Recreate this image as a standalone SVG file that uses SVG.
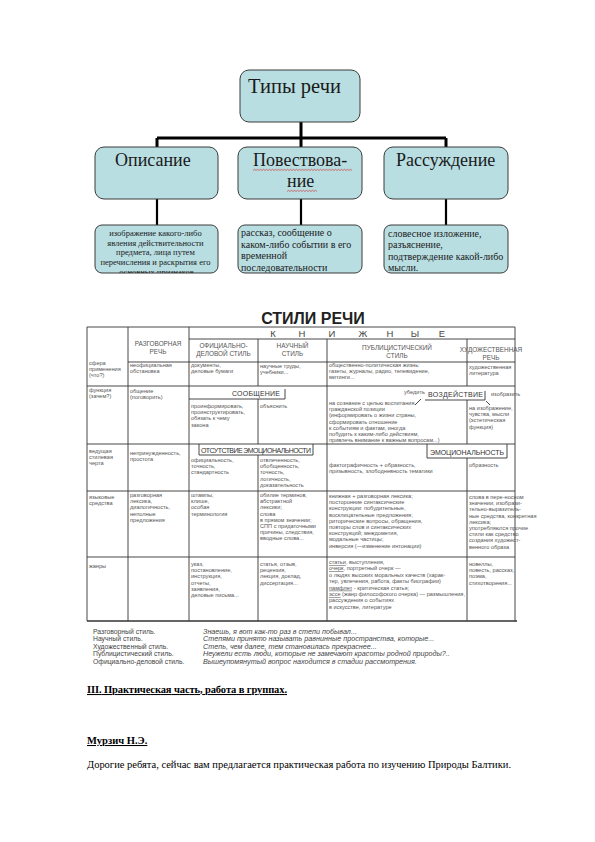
<svg xmlns="http://www.w3.org/2000/svg" width="595" height="842" viewBox="0 0 595 842">
<style>
.box{fill:#b9dee2;stroke:#3a3a3a;stroke-width:1}
.ttl{font-family:"Liberation Serif","Times New Roman",serif;fill:#1a1a1a}
.conn{stroke:#000;stroke-width:3;fill:none}
.conn2{stroke:#000;stroke-width:2.2;fill:none}
.sq{stroke:#d02020;stroke-width:0.6;fill:none}
.gl{stroke:#333;stroke-width:0.9;fill:none}
.t{font-family:"Liberation Sans",Arial,sans-serif;font-size:5.6px;fill:#555}
.h{font-family:"Liberation Sans",Arial,sans-serif;font-size:6.4px;fill:#555;text-anchor:middle}
.lb{font-family:"Liberation Sans",Arial,sans-serif;font-size:7px;fill:#333}
.kn{font-family:"Liberation Sans",Arial,sans-serif;font-size:9.5px;fill:#444;text-anchor:middle}
.lg{font-family:"Liberation Sans",Arial,sans-serif;font-size:6.8px;fill:#444}
.lgi{font-style:italic;font-size:7.2px}
.doc{font-family:"Liberation Serif","Times New Roman",serif;font-size:10.5px;fill:#000}
.u{text-decoration:underline}
</style>
<defs>
<clipPath id="clipL"><rect x="95" y="225" width="123" height="48" rx="7"/></clipPath>
</defs>
<rect x="0" y="0" width="595" height="842" fill="#fff"/>

<g id="connectors">
<path class="conn" d="M301 122 V138 M157 138 H446 M157 138 V147 M301 138 V147 M446 138 V147"/>
<path class="conn2" d="M157 199 V225 M301 199 V225 M446 199 V225"/>
</g>

<g id="n-tipy">
<rect class="box" x="240" y="70" width="120" height="52" rx="9"/>
<text class="ttl" x="248" y="93" font-size="20.5">Типы речи</text>
</g>
<g id="n-opisanie">
<rect class="box" x="95" y="147" width="123" height="52" rx="9"/>
<text class="ttl" x="115" y="166" font-size="18">Описание</text>
</g>
<g id="n-povestvovanie">
<rect class="box" x="238" y="147" width="124" height="52" rx="9"/>
<text class="ttl" x="253" y="166" font-size="18">Повествова-</text>
<text class="ttl" x="287" y="187" font-size="18">ние</text>
<path class="sq" d="M253 170.5 l1.5 -1.2 l1.5 1.2 l1.5 -1.2 l1.5 1.2 l1.5 -1.2 l1.5 1.2 l1.5 -1.2 l1.5 1.2 l1.5 -1.2 l1.5 1.2 l1.5 -1.2 l1.5 1.2 l1.5 -1.2 l1.5 1.2 l1.5 -1.2 l1.5 1.2 l1.5 -1.2 l1.5 1.2 l1.5 -1.2 l1.5 1.2 l1.5 -1.2 l1.5 1.2 l1.5 -1.2 l1.5 1.2 l1.5 -1.2 l1.5 1.2 l1.5 -1.2 l1.5 1.2 l1.5 -1.2 l1.5 1.2 l1.5 -1.2 l1.5 1.2 l1.5 -1.2 l1.5 1.2 l1.5 -1.2 l1.5 1.2 l1.5 -1.2 l1.5 1.2 l1.5 -1.2 l1.5 1.2 l1.5 -1.2 l1.5 1.2 l1.5 -1.2 l1.5 1.2 l1.5 -1.2 l1.5 1.2 l1.5 -1.2 l1.5 1.2 l1.5 -1.2 l1.5 1.2 l1.5 -1.2 l1.5 1.2 l1.5 -1.2 l1.5 1.2 l1.5 -1.2 l1.5 1.2 l1.5 -1.2 l1.5 1.2 l1.5 -1.2 l1.5 1.2 l1.5 -1.2 l1.5 1.2 l1.5 -1.2 l1.5 1.2 l1.5 -1.2 l1.5 1.2"/>
<path class="sq" d="M287 191.5 l1.5 -1.2 l1.5 1.2 l1.5 -1.2 l1.5 1.2 l1.5 -1.2 l1.5 1.2 l1.5 -1.2 l1.5 1.2 l1.5 -1.2 l1.5 1.2 l1.5 -1.2 l1.5 1.2 l1.5 -1.2 l1.5 1.2 l1.5 -1.2 l1.5 1.2 l1.5 -1.2 l1.5 1.2 l1.5 -1.2 l1.5 1.2"/>
</g>
<g id="n-rassuzhdenie">
<rect class="box" x="384" y="147" width="124" height="52" rx="9"/>
<text class="ttl" x="396" y="166" font-size="18">Рассуждение</text>
</g>

<g id="d-opisanie">
<rect class="box" x="95" y="225" width="123" height="48" rx="7"/>
<text class="ttl" font-size="8.5" text-anchor="middle" clip-path="url(#clipL)">
<tspan x="156.5" y="236">изображение какого-либо</tspan>
<tspan x="156.5" y="245.5">явления действительности</tspan>
<tspan x="156.5" y="255">предмета, лица путем</tspan>
<tspan x="156.5" y="264.5">перечисления и раскрытия его</tspan>
<tspan x="156.5" y="274.5">основных признаков</tspan>
</text>
</g>
<g id="d-povestvovanie">
<rect class="box" x="238" y="225" width="124" height="48" rx="7"/>
<text class="ttl" font-size="10">
<tspan x="241" y="236">рассказ, сообщение о</tspan>
<tspan x="241" y="247.5">каком-либо событии в его</tspan>
<tspan x="241" y="259">временной</tspan>
<tspan x="241" y="270.5">последовательности</tspan>
</text>
</g>
<g id="d-rassuzhdenie">
<rect class="box" x="384" y="225" width="124" height="48" rx="7"/>
<text class="ttl" font-size="10">
<tspan x="388" y="236.5">словесное изложение,</tspan>
<tspan x="388" y="248">разъяснение,</tspan>
<tspan x="388" y="259.5">подтверждение какой-либо</tspan>
<tspan x="388" y="271">мысли.</tspan>
</text>
</g>

<g id="styles-table">
<text x="313" y="324" text-anchor="middle" font-family="Liberation Sans, Arial, sans-serif" font-weight="bold" font-size="16" fill="#222">СТИЛИ РЕЧИ</text>
<path class="gl" d="M87 327 H515 M189 339 H515 M128 362 H515 M87 386 H515 M87 444 H515 M87 491 H515 M87 557 H515"/>
<path class="gl" d="M87 327 V621 M128 327 V621 M189 327 V621 M258 339 V386 M258 399 V444 M258 455 V621 M327 339 V621 M467 339 V386 M467 400 V444 M467 458 V621 M515 327 V621"/>
<path d="M87 621 H517" stroke="#333" stroke-width="1.5"/>

<text class="kn" y="337"><tspan x="273">К</tspan><tspan x="302">Н</tspan><tspan x="332">И</tspan><tspan x="363">Ж</tspan><tspan x="390">Н</tspan><tspan x="415">Ы</tspan><tspan x="442">Е</tspan></text>

<text class="h"><tspan x="158" y="346">РАЗГОВОРНАЯ</tspan><tspan x="158" y="353.5">РЕЧЬ</tspan></text>
<text class="h"><tspan x="223.5" y="348">ОФИЦИАЛЬНО-</tspan><tspan x="223.5" y="355.5">ДЕЛОВОЙ СТИЛЬ</tspan></text>
<text class="h"><tspan x="292.5" y="348">НАУЧНЫЙ</tspan><tspan x="292.5" y="355.5">СТИЛЬ</tspan></text>
<text class="h"><tspan x="397" y="350">ПУБЛИЦИСТИЧЕСКИЙ</tspan><tspan x="397" y="357.5">СТИЛЬ</tspan></text>
<text class="h"><tspan x="491" y="352">ХУДОЖЕСТВЕННАЯ</tspan><tspan x="491" y="359.5">РЕЧЬ</tspan></text>

<text class="t"><tspan x="89" y="365">сфера</tspan><tspan x="89" y="371.2">применения</tspan><tspan x="89" y="377.4">(что?)</tspan></text>
<text class="t"><tspan x="89" y="392">функция</tspan><tspan x="89" y="398.2">(зачем?)</tspan></text>
<text class="t"><tspan x="89" y="453">ведущая</tspan><tspan x="89" y="459.2">стилевая</tspan><tspan x="89" y="465.4">черта</tspan></text>
<text class="t"><tspan x="89" y="499">языковые</tspan><tspan x="89" y="505.2">средства</tspan></text>
<text class="t"><tspan x="89" y="568">жанры</tspan></text>

<text class="t"><tspan x="130" y="367">неофициальная</tspan><tspan x="130" y="373.2">обстановка</tspan></text>
<text class="t"><tspan x="130" y="393">общение</tspan><tspan x="130" y="399.2">(поговорить)</tspan></text>
<text class="t"><tspan x="130" y="455">непринужденность,</tspan><tspan x="130" y="461.2">простота</tspan></text>
<text class="t"><tspan x="130" y="497">разговорная</tspan><tspan x="130" y="503.2">лексика,</tspan><tspan x="130" y="509.4">диалогичность,</tspan><tspan x="130" y="515.6">неполные</tspan><tspan x="130" y="521.8">предложения</tspan></text>

<text class="t"><tspan x="191" y="367">документы,</tspan><tspan x="191" y="373.2">деловые бумаги</tspan></text>
<text class="lb" x="232" y="396" textLength="48">СООБЩЕНИЕ</text>
<path class="gl" d="M189 399 H285 V389"/>
<text class="t"><tspan x="191" y="408">проинформировать,</tspan><tspan x="191" y="414.2">проинструктировать,</tspan><tspan x="191" y="420.4">обязать к чему</tspan><tspan x="191" y="426.6">закона</tspan></text>
<path class="gl" d="M199 444 V455 H313 V444"/>
<text class="lb" x="201" y="452.5" font-size="6.6" textLength="110">ОТСУТСТВИЕ ЭМОЦИОНАЛЬНОСТИ</text>
<text class="t"><tspan x="191" y="462">официальность,</tspan><tspan x="191" y="468.2">точность,</tspan><tspan x="191" y="474.4">стандартность</tspan></text>
<text class="t"><tspan x="191" y="497">штампы,</tspan><tspan x="191" y="503.2">клише,</tspan><tspan x="191" y="509.4">особая</tspan><tspan x="191" y="515.6">терминология</tspan></text>
<text class="t"><tspan x="191" y="566">указ,</tspan><tspan x="191" y="572.2">постановление,</tspan><tspan x="191" y="578.4">инструкция,</tspan><tspan x="191" y="584.6">отчеты,</tspan><tspan x="191" y="590.8">заявления,</tspan><tspan x="191" y="597">деловые письма...</tspan></text>

<text class="t"><tspan x="260" y="368">научные труды,</tspan><tspan x="260" y="374.2">учебники...</tspan></text>
<text class="t"><tspan x="260" y="408">объяснить</tspan></text>
<text class="t"><tspan x="260" y="462">отвлеченность,</tspan><tspan x="260" y="468.2">обобщенность,</tspan><tspan x="260" y="474.4">точность,</tspan><tspan x="260" y="480.6">логичность,</tspan><tspan x="260" y="486.8">доказательность</tspan></text>
<text class="t"><tspan x="260" y="497">обилие терминов,</tspan><tspan x="260" y="503.2">абстрактной</tspan><tspan x="260" y="509.4">лексики;</tspan><tspan x="260" y="515.6">слова</tspan><tspan x="260" y="521.8">в прямом значении;</tspan><tspan x="260" y="528">СПП с придаточными</tspan><tspan x="260" y="534.2">причины, следствия,</tspan><tspan x="260" y="540.4">вводные слова...</tspan></text>
<text class="t"><tspan x="260" y="566">статья, отзыв,</tspan><tspan x="260" y="572.2">рецензия,</tspan><tspan x="260" y="578.4">лекция, доклад,</tspan><tspan x="260" y="584.6">диссертация...</tspan></text>

<text class="t"><tspan x="329" y="367">общественно-политическая жизнь:</tspan><tspan x="329" y="373.2">газеты, журналы, радио, телевидение,</tspan><tspan x="329" y="379.4">митинги...</tspan></text>
<text class="t" x="404" y="394">убедить</text>
<path class="gl" d="M421 399 L415 405"/>
<text class="lb" x="428" y="397" textLength="55">ВОЗДЕЙСТВИЕ</text>
<path class="gl" d="M425 400 H485 V391 M486 401 L490 405"/>
<text class="t" x="491" y="396">изобразить</text>
<text class="t"><tspan x="329" y="405">на сознание с целью воспитания</tspan><tspan x="329" y="411.2">гражданской позиции</tspan><tspan x="329" y="417.4">(информировать о жизни страны,</tspan><tspan x="329" y="423.6">сформировать отношение</tspan><tspan x="329" y="429.8">к событиям и фактам, иногда</tspan><tspan x="329" y="436">побудить к каким-либо действиям,</tspan><tspan x="329" y="442.2">привлечь внимание к важным вопросам...)</tspan></text>
<path class="gl" d="M427 444 V458 H507 V444"/>
<text class="lb" x="430" y="455" font-size="7.5" textLength="74">ЭМОЦИОНАЛЬНОСТЬ</text>
<text class="t"><tspan x="329" y="467">фактографичность + образность,</tspan><tspan x="329" y="473.2">призывность, злободневность тематики</tspan></text>
<text class="t"><tspan x="329" y="498">книжная + разговорная лексика;</tspan><tspan x="329" y="504.2">посторонние синтаксические</tspan><tspan x="329" y="510.4">конструкции: побудительные,</tspan><tspan x="329" y="516.6">восклицательные предложения;</tspan><tspan x="329" y="522.8">риторические вопросы, обращения,</tspan><tspan x="329" y="529">повторы слов и синтаксических</tspan><tspan x="329" y="535.2">конструкций; междометия,</tspan><tspan x="329" y="541.4">модальные частицы;</tspan><tspan x="329" y="547.6">инверсия (—изменение интонации)</tspan></text>
<text class="t"><tspan x="329" y="564"><tspan class="u">статьи</tspan>, выступления,</tspan><tspan x="329" y="570.4"><tspan class="u">очерк</tspan>, портретный очерк —</tspan><tspan x="329" y="576.8">о людях высоких моральных качеств (харак-</tspan><tspan x="329" y="583.2">тер, увлечения, работа, факты биографии)</tspan><tspan x="329" y="589.6"><tspan class="u">памфлет</tspan> - критическая статья;</tspan><tspan x="329" y="596"><tspan class="u">эссе</tspan> (жанр философского очерка) — размышления,</tspan><tspan x="329" y="602.4">рассуждения о событиях</tspan><tspan x="329" y="608.8">в искусстве, литературе</tspan></text>

<text class="t"><tspan x="469" y="369">художественная</tspan><tspan x="469" y="375.2">литература</tspan></text>
<text class="t"><tspan x="469" y="410">на изображение,</tspan><tspan x="469" y="416.2">чувства, мысли</tspan><tspan x="469" y="422.4">(эстетическая</tspan><tspan x="469" y="428.6">функция)</tspan></text>
<text class="t"><tspan x="469" y="467">образность</tspan></text>
<text class="t"><tspan x="469" y="499">слова в пере-носном</tspan><tspan x="469" y="505.2">значении, изобрази-</tspan><tspan x="469" y="511.4">тельно-выразитель-</tspan><tspan x="469" y="517.6">ные средства, конкретная</tspan><tspan x="469" y="523.8">лексика;</tspan><tspan x="469" y="530">употребляются прочие</tspan><tspan x="469" y="536.2">стили как средство</tspan><tspan x="469" y="542.4">создания художест-</tspan><tspan x="469" y="548.6">венного образа</tspan></text>
<text class="t"><tspan x="469" y="566">новеллы,</tspan><tspan x="469" y="572.2">повесть, рассказ,</tspan><tspan x="469" y="578.4">поэма,</tspan><tspan x="469" y="584.6">стихотворения...</tspan></text>
</g>

<g id="legend">
<text class="lg"><tspan x="93" y="633.5">Разговорный стиль.</tspan><tspan x="93" y="641">Научный стиль.</tspan><tspan x="93" y="648.5">Художественный стиль.</tspan><tspan x="93" y="656">Публицистический стиль.</tspan><tspan x="93" y="663.5">Официально-деловой стиль.</tspan></text>
<text class="lg lgi"><tspan x="203" y="633.5">Знаешь, я вот как-то раз в степи побывал...</tspan><tspan x="203" y="641">Степями принято называть равнинные пространства, которые...</tspan><tspan x="203" y="648.5">Степь, чем далее, тем становилась прекраснее...</tspan><tspan x="203" y="656">Неужели есть люди, которые не замечают красоты родной природы?..</tspan><tspan x="203" y="663.5">Вышеупомянутый вопрос находится в стадии рассмотрения.</tspan></text>
</g>

<g id="page-text">
<text class="doc u" x="87" y="693" font-weight="bold" textLength="200">III. Практическая часть, работа в группах.</text>
<text class="doc u" x="87" y="744" font-weight="bold">Мурзич Н.Э.</text>
<text class="doc" x="87" y="768" textLength="424">Дорогие ребята, сейчас вам предлагается практическая работа по изучению Природы Балтики.</text>
</g>
</svg>
